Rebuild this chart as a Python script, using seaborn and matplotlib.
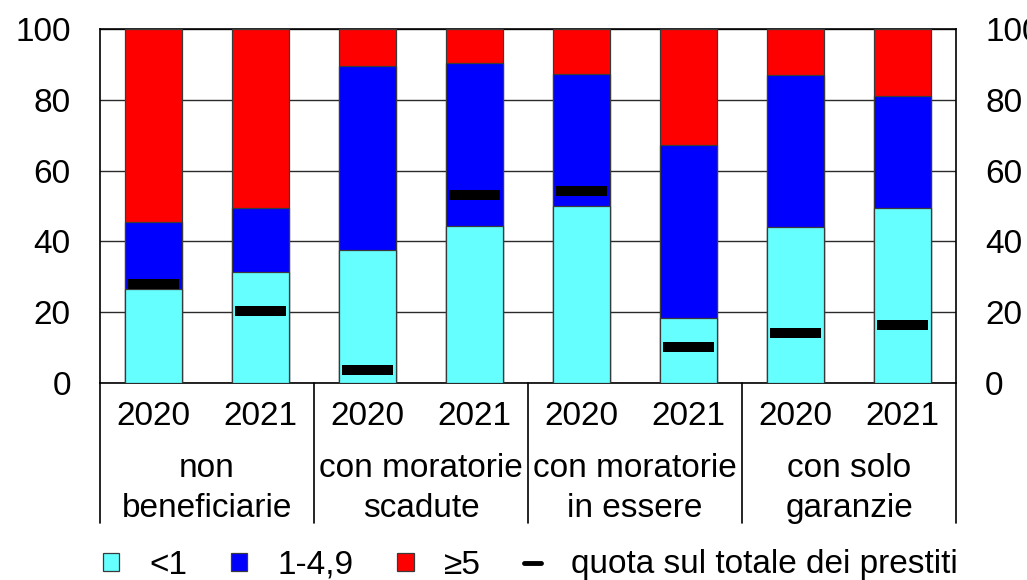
import numpy as np
import pandas as pd
import seaborn as sns
import matplotlib.pyplot as plt
from matplotlib.patches import Patch
from matplotlib.lines import Line2D

# dati (percentuali)
groups = ['non\nbeneficiarie', 'con moratorie\nscadute', 'con moratorie\nin essere', 'con solo\ngaranzie']
years = ['2020', '2021']
low = [26.5, 31.4, 37.5, 44.4, 50.1, 18.5, 44.1, 49.5]      # <1
mid = [18.9, 17.9, 52.0, 46.1, 37.2, 48.7, 43.0, 31.7]      # 1-4,9
high = [54.6, 50.7, 10.5, 9.5, 12.7, 32.8, 12.9, 18.8]      # >=5
quota = [28.1, 20.3, 3.6, 53.1, 54.1, 10.2, 14.0, 16.3]     # quota sul totale dei prestiti

slots = [g.replace('\n', ' ') + ' ' + y for g in groups for y in years]
df = pd.DataFrame({'slot': slots, 'low': low, 'mid': mid, 'high': high, 'quota': quota})
df['cum_mid'] = df['low'] + df['mid']
df['cum_high'] = df['cum_mid'] + df['high']

sns.set_style('white')
plt.rcParams['font.family'] = ['Liberation Sans', 'DejaVu Sans']
plt.rcParams['font.size'] = 24
plt.rcParams['text.color'] = 'black'
plt.rcParams['xtick.color'] = 'black'
plt.rcParams['ytick.color'] = 'black'

fig = plt.figure(figsize=(10.27, 5.8), dpi=100)
ax = fig.add_axes([100 / 1027, 1 - 383 / 580, 856 / 1027, 354 / 580])

bar_w = 0.525
edge = dict(edgecolor='#3a3a3a', linewidth=0.9)
sns.barplot(data=df, x='slot', y='cum_high', order=slots, color='#ff0000', width=bar_w, ax=ax, saturation=1, zorder=3, **edge)
sns.barplot(data=df, x='slot', y='cum_mid', order=slots, color='#0000ff', width=bar_w, ax=ax, saturation=1, zorder=3, **edge)
sns.barplot(data=df, x='slot', y='low', order=slots, color='#66ffff', width=bar_w, ax=ax, saturation=1, zorder=3, **edge)

# trattini neri: quota sul totale
xpos = np.arange(len(slots))
ax.hlines(df['quota'], xpos - 0.235, xpos + 0.235, color='black', linewidth=7.2, zorder=4, capstyle='butt')

ax.set_xlim(-0.5, len(slots) - 0.5)
ax.set_ylim(0, 100)
ax.set_yticks([0, 20, 40, 60, 80, 100])
ax.yaxis.grid(True, color='#2a2a2a', linewidth=1.0, zorder=0)
ax.set_axisbelow(True)
ax.set_xlabel('')
ax.set_ylabel('')
ax.set_xticks(xpos)
ax.set_xticklabels(years * len(groups))
ax.tick_params(axis='both', length=0, labelsize=24, labelcolor='black')
ax.tick_params(axis='x', pad=13)
ax.tick_params(axis='y', pad=21)
for s in ax.spines.values():
    s.set_color('black')
    s.set_linewidth(1.2)

ax2 = ax.twinx()
ax2.set_ylim(0, 100)
ax2.set_yticks([0, 20, 40, 60, 80, 100])
ax2.tick_params(axis='y', length=0, labelsize=24, pad=21, labelcolor='black')
for s in ax2.spines.values():
    s.set_visible(False)

# etichette dei gruppi e separatori
trans = ax.get_xaxis_transform()
for i, g in enumerate(groups):
    line1, line2 = g.split('\n')
    xc = 2 * i + 0.5
    ax.text(xc, -0.266, line1, transform=trans, ha='center', va='baseline', fontsize=24, color='black')
    ax.text(xc, -0.379, line2, transform=trans, ha='center', va='baseline', fontsize=24, color='black')
for b in range(len(groups) + 1):
    ax.plot([2 * b - 0.5, 2 * b - 0.5], [0, -0.396], transform=trans, color='black', linewidth=1.2, clip_on=False)

handles = [
    Patch(facecolor='#66ffff', edgecolor='#3a3a3a', linewidth=0.9, label='<1'),
    Patch(facecolor='#0000ff', edgecolor='#3a3a3a', linewidth=0.9, label='1-4,9'),
    Patch(facecolor='#ff0000', edgecolor='#3a3a3a', linewidth=0.9, label='≥5'),
    Line2D([0], [0], color='black', linewidth=3.5, label='quota sul totale dei prestiti'),
]
fig.legend(handles=handles, loc='center', bbox_to_anchor=(530 / 1027, 1 - 565 / 580), ncol=4,
           frameon=False, fontsize=24, handlelength=0.5, handleheight=0.45,
           handletextpad=0.9, columnspacing=1.3, borderaxespad=0, borderpad=0,
           labelcolor='black')

fig.savefig('out.png', dpi=100)
